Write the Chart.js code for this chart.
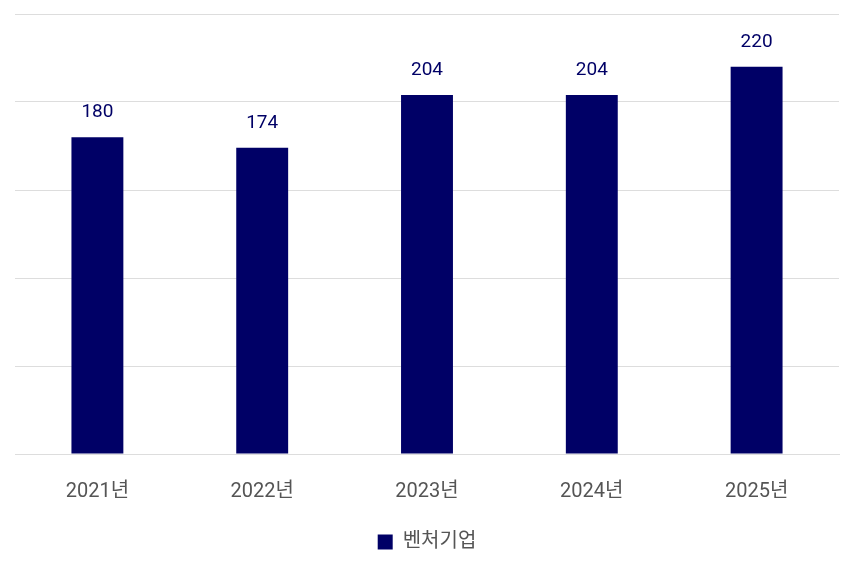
<!DOCTYPE html>
<html><head><meta charset="utf-8">
<script src="https://cdn.jsdelivr.net/npm/chart.js@4"></script>
<style>html,body{margin:0;padding:0;background:#fff;}canvas{display:block;}</style>
</head><body>
<canvas id="c" width="854" height="568"></canvas>
<script>
const categories = ['2021년','2022년','2023년','2024년','2025년'];
const seriesName = '벤처기업';
const values = [180, 174, 204, 204, 220];

const FONT = "Roboto, 'Noto Sans CJK KR', sans-serif";

const valueLabels = {
  id: 'valueLabels',
  afterDatasetsDraw(chart) {
    const ctx = chart.ctx;
    ctx.save();
    ctx.font = '19px ' + FONT;
    ctx.fillStyle = '#000066';
    ctx.textAlign = 'center';
    ctx.textBaseline = 'middle';
    chart.getDatasetMeta(0).data.forEach((bar, i) => {
      ctx.fillText(String(values[i]), bar.x, bar.y - 25);
    });
    ctx.restore();
  }
};

new Chart(document.getElementById('c'), {
  type: 'bar',
  data: {
    labels: categories,
    datasets: [{
      label: seriesName,
      data: values,
      backgroundColor: '#000066',
      borderWidth: 0,
      barPercentage: 0.63,
      categoryPercentage: 0.5
    }]
  },
  options: {
    responsive: false,
    animation: false,
    layout: { padding: { left: 15, right: 15, top: 14, bottom: 6 } },
    scales: {
      x: {
        grid: { display: false, drawTicks: false },
        border: { color: '#dddddd' },
        ticks: { color: '#555555', font: { size: 20, family: FONT }, padding: 26 }
      },
      y: {
        min: 0, max: 250,
        ticks: { display: false, stepSize: 50 },
        grid: { color: '#dddddd', drawTicks: false },
        border: { display: false }
      }
    },
    plugins: {
      legend: {
        position: 'bottom',
        labels: { color: '#555555', font: { size: 20, family: FONT }, boxWidth: 15, boxHeight: 15, padding: 2 }
      },
      tooltip: { enabled: false }
    }
  },
  plugins: [valueLabels]
});
</script>
</body></html>
